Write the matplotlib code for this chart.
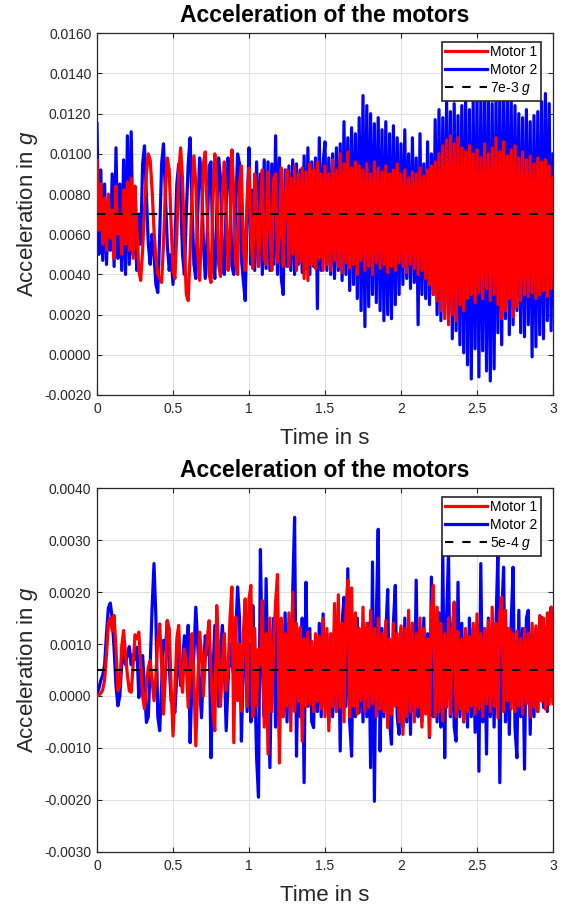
import numpy as np
import matplotlib
matplotlib.use('Agg')
import matplotlib.pyplot as plt
from matplotlib.ticker import FormatStrFormatter, MultipleLocator

# upper plot, values in 1e-4 g, one row = 0.25 s (sample every 0.0125 s)
motor1_top = [
    97, 62, 85, 55, 78, 52, 80, 58, 72, 48, 84, 60, 70, 50, 82, 55, 86, 52, 88, 48,
    84, 62, 42, 37, 52, 72, 90, 100, 97, 82, 62, 48, 40, 38, 36, 55, 82, 98, 92, 65,
    42, 38, 60, 90, 103, 88, 55, 30, 27, 50, 80, 99, 85, 50, 37, 60, 95, 101, 70, 40,
    36, 75, 100, 85, 45, 39, 80, 96, 70, 42, 60, 102, 80, 45, 40, 85, 94, 55, 42, 78,
    93, 60, 43, 90, 75, 44, 70, 92, 48, 45, 91, 65, 42, 88, 90, 46, 60, 93, 44, 75,
    92, 44, 88, 50, 94, 42, 90, 46, 93, 38, 91, 37, 95, 45, 92, 43, 96, 48, 90, 42,
    94, 45, 90, 42, 97, 47, 92, 44, 100, 41, 95, 46, 101, 43, 93, 45, 96, 40, 94, 47,
    92, 42, 95, 44, 90, 40, 96, 46, 93, 43, 91, 45, 94, 41, 90, 44, 92, 42, 95, 46,
    90, 44, 92, 41, 88, 45, 91, 43, 90, 40, 93, 42, 89, 38, 92, 35, 94, 30, 96, 27,
    100, 22, 104, 18, 107, 15, 109, 20, 105, 17, 108, 25, 103, 22, 101, 28, 104, 30, 100, 26,
    102, 31, 98, 28, 105, 33, 100, 27, 103, 30, 108, 25, 101, 18, 106, 22, 99, 28, 102, 19,
    104, 24, 98, 27, 101, 30, 97, 29, 99, 31, 95, 28, 98, 30, 96, 32, 97, 29, 94, 33,
    88,
]
motor2_top = [
    115, 50, 92, 47, 85, 45, 75, 52, 90, 44, 103, 48, 85, 42, 97, 40, 109, 45, 111, 50,
    60, 42, 70, 55, 95, 104, 80, 55, 45, 60, 50, 35, 31, 60, 95, 105, 80, 55, 42, 50,
    35, 55, 85, 95, 80, 50, 40, 70, 95, 108, 75, 45, 38, 70, 98, 90, 55, 38, 60, 94,
    96, 50, 38, 70, 98, 88, 45, 40, 75, 98, 85, 44, 40, 72, 100, 95, 48, 37, 27, 70,
    103, 45, 82, 42, 96, 44, 90, 40, 97, 43, 96, 42, 95, 45, 109, 40, 98, 38, 30, 92,
    44, 94, 42, 97, 40, 95, 45, 92, 41, 99, 43, 103, 40, 96, 44, 98, 23, 108, 42, 95,
    106, 42, 98, 40, 100, 38, 103, 42, 105, 37, 116, 40, 108, 32, 113, 35, 110, 28, 118, 22,
    129, 14, 124, 24, 120, 30, 115, 26, 118, 22, 112, 17, 116, 20, 110, 18, 114, 25, 108, 30,
    105, 35, 112, 38, 100, 33, 108, 36, 98, 15, 110, 30, 95, 28, 106, 25, 100, 30, 117, 20,
    122, 17, 118, 25, 126, 20, 121, 8, 125, 12, 119, 5, 124, 1, 128, -5, 122, -12, 126, 3,
    130, -11, 127, 2, 132, -8, 128, -13, 125, -7, 129, 11, 130, 5, 126, 18, 131, 10, 127, 15,
    124, 22, 120, 11, 118, 9, 122, 15, 116, -1, 119, 4, 121, 10, 126, 8, 130, 17, 125, 12,
    100,
]

# lower plot, values in 1e-5 g
motor1_bot = [
    0, 2, 5, 12, 30, 80, 140, 150, 125, 155, 90, 10, 20, 95, 126, 80, 40, 10, 7, 60,
    118, 110, 123, 60, 0, -25, 20, 55, 68, 30, -9, 40, 110, 139, 60, -35, 40, 145, 130, 20,
    -77, 10, 110, 136, 40, 7, 90, 60, -22, 60, 120, 30, -96, 20, 123, 80, 0, 70, 110, 145,
    40, -30, -67, 174, 90, -20, 60, 120, 10, 50, 150, 210, -90, 152, -9, 100, -29, 120, 187, -20,
    187, 213, -40, 130, -20, 90, 60, 184, -60, 120, -112, 150, -30, 100, 181, 234, -129, 150, -40, 120,
    -20, 160, -67, 200, -30, 140, -10, 132, -87, 110, -20, 123, -16, 105, -30, 120, -10, 115, -25, 149,
    -40, 130, -67, 120, -20, 178, -30, 195, -22, 140, -50, 160, 223, -40, 208, -20, 160, -35, 130, -9,
    171, -30, 140, -22, 165, -15, 130, -40, 150, -25, 120, -30, 145, -61, 110, -35, 140, -20, 120, -50,
    135, -74, 130, -40, 165, -30, 140, -50, 120, -22, 150, -60, 130, -35, 110, -77, 160, 213, -40, 171,
    -30, 140, -48, 120, -22, 150, -35, 130, 181, -40, 125, -25, 110, -48, 130, -30, 115, -20, 140, -35,
    158, -25, 120, -40, 130, -15, 145, -30, 171, -20, 140, -42, 160, 190, -30, 165, -9, 130, -25, 120,
    -30, 125, -20, 110, -35, 130, -15, 120, -40, 140, -22, 135, -30, 155, -10, 150, -25, 160, -16, 171,
    -15,
]
motor2_bot = [
    3, 15, 30, 40, 60, 120, 170, 179, 150, 90, 20, -19, 0, 60, 90, 60, 80, 95, 60, 80,
    70, 94, -3, 40, 78, 20, -51, -40, 60, 170, 255, 150, -40, -67, 20, 107, 90, 145, 60, -10,
    -20, -32, 40, 90, 20, 60, 116, 50, 136, -90, 30, 80, 171, 100, 20, -42, 50, 116, 80, 136,
    -119, 40, 136, 50, -20, 90, 136, 60, -67, 30, 100, 60, 40, 120, 210, 150, -87, 60, 130, -30,
    100, -50, 174, 40, -120, -195, 282, 60, -40, 226, 30, -138, 80, 150, -60, 180, -80, 120, -40, 160,
    -50, 140, -30, 200, 344, -116, 100, -40, 150, -167, 219, -20, 130, -50, -61, 110, -30, 140, -40, 158,
    -20, 120, -50, 110, -40, 130, -30, 150, -106, 140, 190, -20, 245, -50, -116, 130, -40, 150, -32, 120,
    -50, 130, -40, 140, -138, 258, -203, 150, 321, -106, 130, -40, 120, 205, -50, -93, 140, 213, -40, -74,
    130, -60, 150, -50, 120, -74, 140, -30, 223, -40, 130, -50, 150, -30, 120, -80, 229, -40, 140, -50,
    160, -60, 280, -119, 150, 275, -40, 130, -60, -87, 219, -40, 140, -50, 120, -60, 150, -40, 130, -70,
    140, -145, 255, -50, 130, -112, 150, -40, 120, -60, 140, 275, -167, 150, 248, -50, 130, -74, 140, 248,
    -60, -119, 165, -40, 130, -141, 150, 165, -74, 120, -40, 130, -30, 140, 152, -22, 130, -30, 150, 171,
    -10,
]

ref_top = 7e-3
ref_bot = 5e-4
labels_top = ['Motor 1', 'Motor 2', '7e-3 $g$']
labels_bot = ['Motor 1', 'Motor 2', '5e-4 $g$']

plt.rcParams['font.family'] = ['Liberation Sans', 'DejaVu Sans']
plt.rcParams['mathtext.fontset'] = 'custom'
plt.rcParams['mathtext.it'] = 'Liberation Sans:italic'
plt.rcParams['mathtext.rm'] = 'Liberation Sans'
plt.rcParams['axes.unicode_minus'] = False

dark = '#262626'


def draw(ax, m1, m2, unit, ref, ylo, yhi, ystep, labels):
    t1 = np.linspace(0, 3, len(m1))
    t2 = np.linspace(0, 3, len(m2))
    l2, = ax.plot(t2, np.array(m2) * unit, color='#0000ff', lw=2.3, zorder=2)
    l1, = ax.plot(t1, np.array(m1) * unit, color='#ff0000', lw=2.3, zorder=3)
    l3, = ax.plot([0, 3], [ref, ref], color='black', lw=1.5, ls=(0, (4, 4.3)), zorder=4)

    ax.set_xlim(0, 3)
    ax.set_ylim(ylo, yhi)
    ax.xaxis.set_major_locator(MultipleLocator(0.5))
    ax.xaxis.set_major_formatter(FormatStrFormatter('%g'))
    ax.yaxis.set_major_locator(MultipleLocator(ystep))
    ax.yaxis.set_major_formatter(FormatStrFormatter('%.4f'))
    ax.grid(True, color='#dfdfdf', lw=0.7)
    ax.set_axisbelow(True)
    ax.tick_params(direction='in', top=True, right=True, length=3.5, width=0.8,
                   color=dark, labelcolor=dark, labelsize=10)
    ax.tick_params(axis='x', pad=5)
    ax.tick_params(axis='y', pad=4)
    for s in ax.spines.values():
        s.set_color(dark)
        s.set_linewidth(0.9)

    ax.set_title('Acceleration of the motors', fontsize=16.5, fontweight='bold', pad=8)
    ax.set_xlabel('Time in s', fontsize=16, color=dark, labelpad=9)
    ax.set_ylabel('Acceleration in $g$', fontsize=16, color=dark, labelpad=3)

    leg = ax.legend([l1, l2, l3], labels, loc='upper right', bbox_to_anchor=(0.974, 0.977),
                    borderaxespad=0, fontsize=10, handlelength=3.0, handletextpad=0.25,
                    labelspacing=0.25, borderpad=0.25, fancybox=False, framealpha=1)
    leg.get_frame().set_edgecolor(dark)
    leg.get_frame().set_linewidth(1.2)


fig = plt.figure(figsize=(5.68, 9.07), dpi=100)
ax1 = fig.add_axes([97 / 568, 1 - 395 / 907, 456 / 568, 361.7 / 907])
ax2 = fig.add_axes([97 / 568, 1 - 851.7 / 907, 456 / 568, 363.4 / 907])

draw(ax1, motor1_top, motor2_top, 1e-4, ref_top, -0.002, 0.016, 0.002, labels_top)
draw(ax2, motor1_bot, motor2_bot, 1e-5, ref_bot, -0.003, 0.004, 0.001, labels_bot)

fig.savefig('out.png', dpi=100)
